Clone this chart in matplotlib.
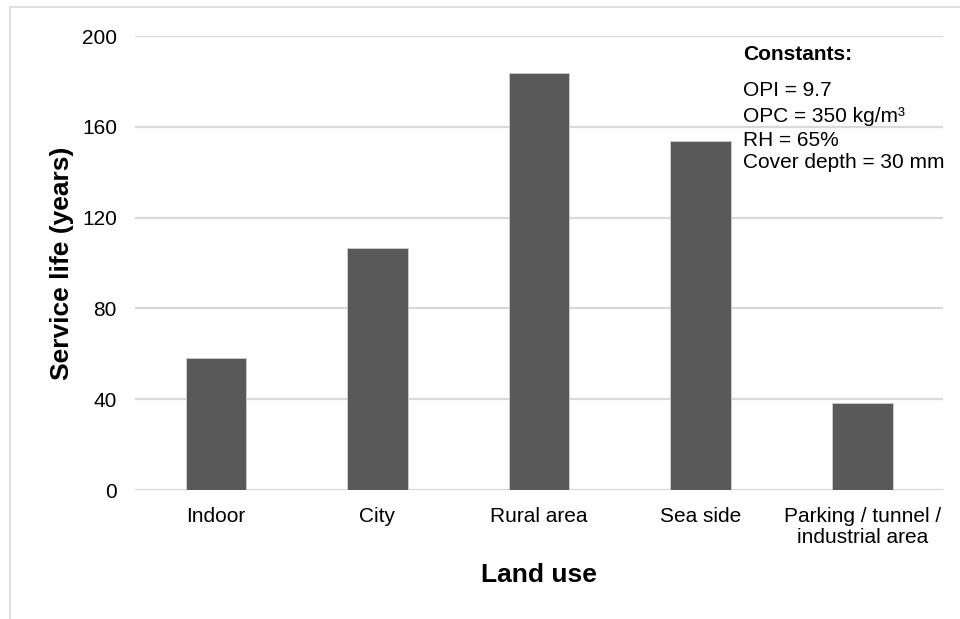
import matplotlib
matplotlib.use("Agg")
import matplotlib.pyplot as plt
from matplotlib.patches import Rectangle

plt.rcParams['font.family'] = ['Liberation Sans', 'DejaVu Sans']

# Service life per land use category
land_use = ['Indoor', 'City', 'Rural area', 'Sea side',
            'Parking / tunnel /\nindustrial area']
service_life = [58.3, 106.6, 183.7, 153.9, 38.2]
y_ticks = [0, 40, 80, 120, 160, 200]
constants = ['OPI = 9.7', 'OPC = 350 kg/m³', 'RH = 65%', 'Cover depth = 30 mm']

W, H = 960, 619
fig = plt.figure(figsize=(W / 100, H / 100), dpi=100)

# outer chart frame (only top/left edges fall inside the image)
fig.patches.append(Rectangle((10 / W, -0.5), 1.2, 1.5 - 7 / H, transform=fig.transFigure,
                             fill=False, edgecolor='#d9d9d9', linewidth=1.2, zorder=0))

ax = fig.add_axes([135 / W, 1 - 490 / H, 808 / W, 454 / H])
x = range(len(land_use))
ax.bar(x, service_life, width=0.375, color='#595959', edgecolor='#d0d0d0',
       linewidth=0.6, zorder=3)

ax.set_xlim(-0.5, len(land_use) - 0.5)
ax.set_ylim(0, 200)
ax.set_yticks(y_ticks)
ax.set_xticks(list(x))
ax.set_xticklabels(land_use, fontsize=15, linespacing=1.15)
ax.tick_params(axis='y', length=0, pad=13, labelsize=15)
ax.tick_params(axis='x', length=0, pad=12)
ax.grid(axis='y', color='#d9d9d9', linewidth=1.6, zorder=0)
for s in ax.spines.values():
    s.set_visible(False)

fig.text(62 / W, 1 - 263 / H, 'Service life (years)', rotation=90, fontsize=19,
         fontweight='bold', ha='center', va='center')
fig.text(539 / W, 1 - 575 / H, 'Land use', fontsize=19, fontweight='bold',
         ha='center', va='center')

# constants box text
fig.text(743 / W, 1 - 54 / H, 'Constants:', fontsize=15, fontweight='bold',
         ha='left', va='center')
for txt, yp in zip(constants, [90, 116, 140, 162]):
    fig.text(743 / W, 1 - yp / H, txt, fontsize=15, ha='left', va='center')

fig.savefig('out.png', dpi=100)
